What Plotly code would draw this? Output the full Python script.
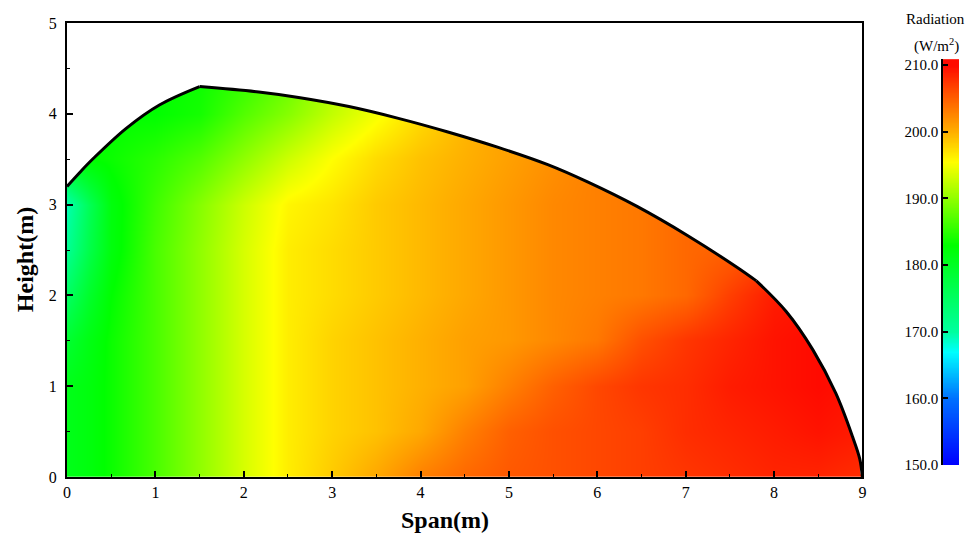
import numpy as np
import plotly.graph_objects as go

# Grid nodes of the radiation field (m)
span_nodes = [0, 0.25, 0.5, 1, 1.5, 2, 2.5, 3, 3.5, 4, 4.5, 5, 5.5, 6, 6.5, 7, 7.5, 8, 8.5, 9]
height_nodes = [0, 0.5, 1.0, 1.5, 2.0, 2.5, 3.0, 3.5, 4.0, 4.5]

# Radiation (W/m2), one row per height node
rad_h00 = [181, 182, 183.5, 186.5, 190, 193.5, 196.5, 198.5, 200.5, 203, 204.5, 205.5, 206, 206.5, 207, 207.5, 208, 208.5, 208.5, 208]
rad_h05 = [181, 182, 183.5, 186.5, 190, 193.5, 196.5, 198, 199, 200.5, 203, 205, 206, 206.5, 207, 208, 208.5, 209, 209.5, 209]
rad_h10 = [181, 182, 183.5, 186.5, 190, 193.5, 196.5, 198, 199, 200, 201, 203, 205, 206.5, 207.5, 208, 209, 209.5, 210, 209.5]
rad_h15 = [179, 181.5, 183.5, 186.5, 190, 193.5, 196.5, 198, 199, 200, 201, 201.5, 202.5, 203.5, 206, 207.5, 208.5, 209.5, 210, 209.5]
rad_h20 = [175, 179.5, 183, 186.5, 190, 193.5, 196.5, 197.5, 198.5, 199.5, 200.5, 201.5, 202.5, 203, 203.5, 204.5, 207, 209, 209.5, 209]
rad_h25 = [171, 177, 182, 186.5, 190, 193.5, 196.5, 197.5, 198.5, 199.5, 200.5, 201.5, 202.5, 203, 203.5, 204.5, 205, 206.5, 208, 208]
rad_h30 = [169, 176, 182, 186, 189.5, 193, 196, 197, 198.5, 199.5, 200.5, 201.5, 202.5, 203, 203.5, 204.5, 205, 206, 207, 207]
rad_h35 = [182, 183, 183.5, 185, 187, 190, 193, 195.5, 197.5, 199, 200, 201, 202, 203, 203.5, 204.5, 205, 206, 207, 207]
rad_h40 = [183, 183, 183, 183, 184, 187, 189.5, 192.5, 195, 197.5, 199.5, 201, 202, 203, 203.5, 204.5, 205, 206, 207, 207]
rad_h45 = [183, 183, 183, 183, 183.5, 185, 187.5, 191, 194, 196.5, 199, 200.5, 202, 203, 203.5, 204.5, 205, 206, 207, 207]

# Roof profile of the greenhouse section (m): left arc, main arc, end arc
roof_left_span = [0, 0.15, 0.30, 0.67, 1.05, 1.50]
roof_left_height = [3.20, 3.36, 3.51, 3.84, 4.10, 4.30]
roof_main_span = [1.50, 2.17, 2.62, 3.19, 3.75, 4.31, 4.88, 5.44, 5.89, 6.45, 7.02, 7.58, 7.80]
roof_main_height = [4.30, 4.24, 4.18, 4.08, 3.95, 3.80, 3.63, 3.44, 3.25, 2.98, 2.66, 2.31, 2.16]
roof_end_span = [7.80, 8.14, 8.44, 8.70, 8.89, 8.97, 9.0]
roof_end_height = [2.16, 1.82, 1.40, 0.92, 0.44, 0.20, 0.0]

# Colour bar ticks
cbar_ticks = [150, 160, 170, 180, 190, 200, 210]
z_min, z_max = 150, 210

radiation = [rad_h00, rad_h05, rad_h10, rad_h15, rad_h20,
             rad_h25, rad_h30, rad_h35, rad_h40, rad_h45]

jet_scale = [
    [0.0, "#0000FF"],
    [0.1667, "#0070FF"],
    [0.2833, "#00FFFF"],
    [0.3333, "#00FFA0"],
    [0.55, "#00FF00"],
    [0.6667, "#90FF00"],
    [0.7583, "#FFFF00"],
    [0.8333, "#FFB000"],
    [0.8833, "#FF8000"],
    [0.9333, "#FF5000"],
    [1.0, "#FF0A00"],
]

FONT = "Liberation Serif"
ARC = dict(shape="spline", smoothing=1.0)

fig = go.Figure()

# Radiation field
fig.add_trace(go.Heatmap(
    x=span_nodes, y=height_nodes, z=radiation,
    zmin=z_min, zmax=z_max, colorscale=jet_scale,
    zsmooth="best", showscale=False, hoverinfo="skip",
))

# White mask above each roof arc (pieces overlap their neighbours a little),
# then the black outline on top
roof_parts = [
    (roof_left_span, roof_left_height),
    (roof_main_span, roof_main_height),
    (roof_end_span, roof_end_height),
]
n_parts = len(roof_parts)
for i, (sx, sy) in enumerate(roof_parts):
    pad_l = 0.3 if i == 0 else 0.03
    pad_r = 0.3 if i == n_parts - 1 else 0.03
    left, right = sx[0] - pad_l, sx[-1] + pad_r
    fig.add_trace(go.Scatter(
        x=[left, right], y=[5.3, 5.3], mode="lines",
        line=dict(width=0, color="white"), hoverinfo="skip", showlegend=False,
    ))
    fig.add_trace(go.Scatter(
        x=[left] + list(sx) + [right], y=[sy[0]] + list(sy) + [sy[-1]],
        mode="lines", fill="tonexty", fillcolor="white",
        line=dict(width=0, color="white", **ARC),
        hoverinfo="skip", showlegend=False,
    ))

for sx, sy in roof_parts:
    fig.add_trace(go.Scatter(
        x=sx, y=sy, mode="lines",
        line=dict(color="black", width=3, **ARC),
        hoverinfo="skip", showlegend=False,
    ))

# Colour bar drawn as a strip on its own axes
cbar_levels = np.arange(z_min, 211.0, 0.25)
fig.add_trace(go.Heatmap(
    x=[0], y=cbar_levels, z=[[v] for v in cbar_levels],
    zmin=z_min, zmax=z_max, colorscale=jet_scale,
    zsmooth="best", showscale=False, hoverinfo="skip",
    xaxis="x2", yaxis="y2",
))

axis_font = dict(family=FONT, size=16, color="black")

fig.update_layout(
    width=974, height=537,
    margin=dict(l=67, r=10, t=23, b=60),
    paper_bgcolor="white", plot_bgcolor="white",
    showlegend=False,
    xaxis=dict(
        domain=[0, 0.8907], range=[0, 9], tick0=0, dtick=1,
        ticks="inside", ticklen=6, tickwidth=1.5, tickcolor="black",
        minor=dict(ticks="inside", ticklen=3, tickwidth=1.2, dtick=0.5, tickcolor="black"),
        showline=True, linewidth=2, linecolor="black", mirror=True,
        showgrid=False, zeroline=False, tickfont=axis_font,
    ),
    yaxis=dict(
        domain=[0, 1], range=[0, 5], tick0=0, dtick=1,
        ticks="inside", ticklen=6, tickwidth=1.5, tickcolor="black",
        minor=dict(ticks="inside", ticklen=3, tickwidth=1.2, dtick=0.5, tickcolor="black"),
        showline=True, linewidth=2, linecolor="black", mirror=True,
        showgrid=False, zeroline=False, tickfont=axis_font,
        ticklabelstandoff=5,
    ),
    xaxis2=dict(
        domain=[0.981, 0.9989], anchor="y2", range=[-0.5, 0.5],
        visible=False, fixedrange=True,
    ),
    yaxis2=dict(
        domain=[0.0264, 0.9207], anchor="x2", side="left",
        range=[z_min, 210.9], tickvals=cbar_ticks, tickformat=".1f",
        ticks="inside", ticklen=5, tickwidth=1.5, tickcolor="black",
        showline=True, linewidth=1.5, linecolor="black",
        showgrid=False, zeroline=False, tickfont=dict(family=FONT, size=15, color="black"),
        fixedrange=True,
    ),
    annotations=[
        dict(text="<b>Span(m)</b>", x=(447 - 67) / 897, y=(477 - 520) / 454,
             xref="paper", yref="paper", showarrow=False,
             xanchor="center", yanchor="middle",
             font=dict(family=FONT, size=24, color="black")),
        dict(text="<b>Height(m)</b>", x=(25 - 67) / 897, y=(477 - 260) / 454,
             xref="paper", yref="paper", showarrow=False, textangle=-90,
             xanchor="center", yanchor="middle",
             font=dict(family=FONT, size=24, color="black")),
        dict(text="Radiation", x=(939 - 67) / 897, y=(477 - 19) / 454,
             xref="paper", yref="paper", showarrow=False,
             xanchor="center", yanchor="middle",
             font=dict(family=FONT, size=15, color="black")),
        dict(text="(W/m<sup>2</sup>)", x=(940 - 67) / 897, y=(477 - 45) / 454,
             xref="paper", yref="paper", showarrow=False,
             xanchor="center", yanchor="middle",
             font=dict(family=FONT, size=15, color="black")),
    ],
)

fig.write_html("out.html")
